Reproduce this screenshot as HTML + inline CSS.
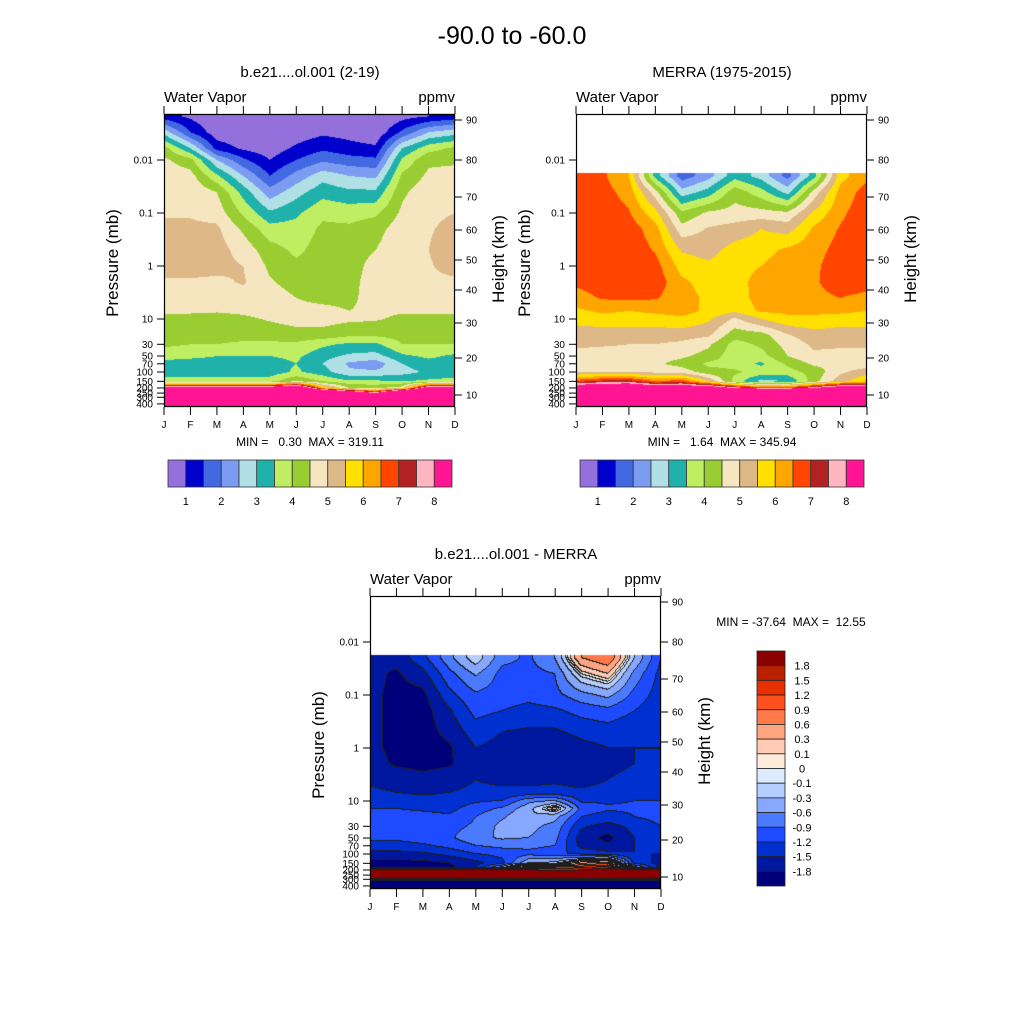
<!DOCTYPE html>
<html><head><meta charset="utf-8">
<style>
html,body{margin:0;padding:0;background:#fff;}
#wrap{position:relative;width:1024px;height:1024px;overflow:hidden;}
canvas,svg{position:absolute;left:0;top:0;}
text{font-family:"Liberation Sans",sans-serif;fill:#000;white-space:pre;}
</style></head>
<body>
<div id="wrap">
<canvas id="cv" width="1024" height="1024"></canvas>
<svg id="sv" width="1024" height="1024" xmlns="http://www.w3.org/2000/svg" xml:space="preserve">
<text x="512" y="44" font-size="25" text-anchor="middle">-90.0 to -60.0</text>
<text x="310" y="77" font-size="15" text-anchor="middle">b.e21....ol.001 (2-19)</text>
<text x="722" y="77" font-size="15" text-anchor="middle">MERRA (1975-2015)</text>
<text x="516" y="559" font-size="15" text-anchor="middle">b.e21....ol.001 - MERRA</text>
<text x="310" y="446" font-size="12" text-anchor="middle">MIN =   0.30  MAX = 319.11</text>
<text x="722" y="446" font-size="12" text-anchor="middle">MIN =   1.64  MAX = 345.94</text>
<text x="791" y="626" font-size="12" text-anchor="middle">MIN = -37.64  MAX =  12.55</text>
</svg>
</div>
<script>
// ---------- data ----------
const monthLabels = ["J","F","M","A","M","J","J","A","S","O","N","D"];
const wvLevels = [1,1.5,2,2.5,3,3.5,4,4.5,5,5.5,6,6.5,7,7.5,8];
const wvColors = ["#9370DB","#0000CD","#4169E1","#7B9CF0","#B0E0E6","#20B2AA","#C0EE63","#9ACD32","#F5E6C0","#DEB887","#FFE000","#FFA500","#FF4500","#B22222","#FFB6C1","#FF1493"];
const wvLabels = ["1","2","3","4","5","6","7","8"];
const diffLevels = [-1.8,-1.5,-1.2,-0.9,-0.6,-0.3,-0.1,0,0.1,0.3,0.6,0.9,1.2,1.5,1.8];
const diffLabels = ["-1.8","-1.5","-1.2","-0.9","-0.6","-0.3","-0.1","0","0.1","0.3","0.6","0.9","1.2","1.5","1.8"];
const diffColors = ["#00007A","#0018A0","#0030D0","#1E4BFF","#4A7BFF","#86A8FF","#B5CEFF","#DCEBFF","#FFEBDC","#FFCBB5","#FFA580","#FF7A48","#FF5020","#E63000","#B82000","#8B0000"];
const pressureTicks = [0.01,0.1,1,10,30,50,70,100,150,200,250,300,400];
const pressureTickLabels = ["0.01","0.1","1","10","30","50","70","100","150","200","250","300","400"];
const heightTickLabels = ["90","80","70","60","50","40","30","20","10"];
const heightTickY = [120,160,197,230,260,290,323,358,395];

const modelP = [0.0015,0.003,0.006,0.01,0.02,0.04,0.1,0.2,0.5,1,2,4,7,10,20,30,50,70,100,150,200,250,300,450];
const modelValues = [
[1.2,2.8,4.2,4.6,4.8,4.9,4.95,5.1,5.3,5.3,4.9,4.8,4.6,4.3,4.2,4.1,3.7,3.3,3.2,3.8,9,15,30,100],
[0.9,1.5,3.0,4.2,4.7,4.9,4.95,5.1,5.3,5.3,4.9,4.8,4.6,4.3,4.2,4.0,3.6,3.3,3.2,3.8,9,15,30,100],
[0.5,0.7,1.3,2.5,3.6,4.5,4.8,5.1,5.2,5.15,4.9,4.75,4.55,4.3,4.2,4.0,3.5,3.3,3.2,3.8,9,15,30,100],
[0.4,0.6,0.9,1.6,2.5,3.3,3.9,4.4,4.8,5.0,5.05,4.8,4.6,4.4,4.2,3.9,3.5,3.3,3.2,3.8,9,15,30,100],
[0.3,0.4,0.7,1.0,1.5,2.2,3.1,3.7,4.2,4.4,4.55,4.75,4.7,4.55,4.2,3.9,3.5,3.3,3.2,3.8,9,15,30,100],
[0.5,0.7,1.1,1.5,2.2,2.8,3.4,3.7,3.9,4.1,4.3,4.5,4.6,4.7,4.3,3.9,3.6,3.5,3.6,4.5,10,15,30,100],
[0.6,0.9,1.4,1.9,2.8,3.3,3.9,4.1,4.2,4.25,4.3,4.4,4.6,4.7,4.3,3.6,3.2,3.0,3.2,4.0,6.0,12,30,100],
[0.5,0.8,1.2,1.7,2.5,3.1,3.8,4.1,4.2,4.2,4.3,4.4,4.5,4.6,4.1,3.4,2.9,2.4,2.6,3.6,4.5,10,20,100],
[0.4,0.6,1.1,1.6,2.4,3.1,3.9,4.3,4.5,4.75,4.8,4.7,4.6,4.55,4.1,3.4,2.8,2.2,2.6,3.6,4.4,8,20,100],
[0.8,1.6,3.0,3.6,4.1,4.4,4.6,4.8,4.9,4.9,4.85,4.75,4.55,4.4,4.2,4.0,3.4,3.0,2.8,3.5,4.8,12,30,100],
[1.0,2.5,3.8,4.4,4.6,4.8,4.9,4.95,5.0,4.95,4.9,4.75,4.55,4.4,4.2,4.0,3.6,3.3,3.1,3.6,9,15,30,100],
[1.2,2.8,4.1,4.4,4.7,4.85,5.0,5.15,5.3,5.2,4.9,4.75,4.55,4.4,4.2,4.0,3.4,3.3,3.2,3.7,9,15,30,100]
];

const merraP = [0.02,0.04,0.1,0.2,0.5,1,2,4,7,10,20,30,50,70,100,150,200,250,300,450];
const merraTopP = 0.0176;
const merraValues = [
[6.8,6.8,6.8,6.8,6.8,6.75,6.6,6.3,5.9,5.7,5.2,5.1,4.8,4.7,5.0,6.8,9,15,30,100],
[6.6,6.7,6.8,6.8,6.8,6.8,6.75,6.55,6.1,5.8,5.2,5.05,4.8,4.7,5.0,7.2,9.5,15,30,100],
[6.0,6.3,6.55,6.8,6.85,6.85,6.8,6.6,6.0,5.8,5.2,5.0,4.8,4.7,5.0,7.3,9.5,15,30,100],
[3.3,4.7,5.7,6.2,6.45,6.7,6.8,6.55,6.1,5.8,5.2,5.0,4.7,4.6,4.9,6.5,9,15,30,100],
[1.7,2.7,4.1,4.7,5.45,5.8,6.1,6.2,6.2,5.9,5.2,4.9,4.6,4.3,4.8,6.8,9,15,30,100],
[2.3,3.2,4.6,5.05,5.3,5.6,5.8,5.9,5.9,5.6,5.1,4.6,4.3,3.9,4.2,5.5,9,15,30,100],
[3.3,4.3,4.7,5.2,5.7,5.8,5.8,5.75,5.6,4.9,4.2,3.8,3.7,3.8,4.1,3.8,8,15,30,100],
[2.8,3.7,4.7,5.5,5.8,6.0,6.2,6.2,6.1,5.5,4.3,4.1,3.8,3.4,3.8,2.8,7,15,30,100],
[1.8,2.8,4.6,5.3,6.1,6.3,6.4,6.3,6.1,5.9,4.95,4.7,4.5,4.1,3.8,3.0,7,15,30,100],
[3.3,4.7,5.6,6.1,6.3,6.4,6.45,6.4,6.1,5.9,5.3,5.1,4.9,4.6,4.2,4.3,8,15,30,100],
[5.8,6.2,6.4,6.55,6.7,6.8,6.7,6.5,6.1,5.8,5.2,5.1,4.8,4.6,4.9,5.3,9,15,30,100],
[6.4,6.7,6.8,6.8,6.8,6.8,6.65,6.4,6.0,5.8,5.2,5.1,4.8,4.7,5.3,6.0,9,15,30,100]
];

const diffP = [0.02,0.04,0.1,0.2,0.5,1,2,4,7,10,14,20,30,50,70,100,150,180,200,250,300,330,450];
const diffValues = [
[-1.65,-1.7,-1.7,-1.7,-1.7,-1.7,-1.65,-1.55,-1.45,-1.3,-1.2,-1.1,-1.1,-1.15,-1.3,-1.6,-1.9,-1.9,2.2,2.5,2.0,-2.0,-2.2],
[-1.7,-1.85,-1.9,-1.9,-1.9,-1.9,-1.85,-1.6,-1.5,-1.35,-1.2,-1.1,-1.1,-1.15,-1.3,-1.6,-1.9,-1.9,2.2,2.5,2.0,-2.0,-2.2],
[-1.3,-1.6,-1.9,-1.95,-1.95,-1.95,-1.9,-1.7,-1.55,-1.4,-1.25,-1.1,-1.0,-1.05,-1.25,-1.55,-1.9,-1.9,2.2,2.5,2.0,-2.0,-2.2],
[-0.7,-1.0,-1.3,-1.55,-1.7,-1.85,-1.85,-1.6,-1.5,-1.4,-1.3,-1.15,-1.0,-0.95,-1.1,-1.4,-1.8,-1.9,2.2,2.5,2.0,-2.0,-2.2],
[-0.1,-0.55,-0.95,-1.1,-1.35,-1.5,-1.55,-1.5,-1.45,-1.25,-1.05,-0.9,-0.85,-0.7,-0.9,-1.2,-1.6,-1.5,2.2,2.5,2.0,-2.0,-2.2],
[-0.8,-1.0,-1.05,-1.2,-1.5,-1.6,-1.6,-1.55,-1.45,-1.2,-0.85,-0.65,-0.5,-0.55,-0.8,-1.1,-1.3,-0.5,2.0,2.5,2.0,-2.0,-2.2],
[-0.95,-1.0,-1.1,-1.3,-1.55,-1.65,-1.65,-1.6,-1.4,-0.7,-0.4,-0.3,-0.5,-0.6,-0.8,-1.0,-0.3,1.0,1.8,2.5,2.0,-2.0,-2.2],
[-0.6,-0.9,-1.0,-1.25,-1.55,-1.8,-1.65,-1.55,-1.4,-0.6,0.2,-0.5,-0.7,-0.8,-0.9,-1.1,-0.2,1.2,1.6,2.3,2.0,-2.0,-2.2],
[0.6,0.0,-0.7,-1.1,-1.4,-1.6,-1.65,-1.6,-1.45,-1.25,-1.0,-1.2,-1.45,-1.65,-1.6,-1.3,0.5,1.4,1.8,2.0,2.0,-2.0,-2.2],
[0.9,0.3,-0.5,-1.0,-1.35,-1.5,-1.55,-1.5,-1.4,-1.25,-1.15,-1.35,-1.6,-1.9,-1.75,-1.4,0.8,1.6,2.0,2.0,2.0,-2.0,-2.2],
[-0.3,-0.7,-1.0,-1.2,-1.45,-1.5,-1.5,-1.45,-1.35,-1.2,-1.15,-1.2,-1.4,-1.5,-1.5,-1.5,-1.3,-0.5,2.2,2.5,2.0,-2.0,-2.2],
[-1.2,-1.3,-1.35,-1.45,-1.5,-1.5,-1.5,-1.45,-1.3,-1.2,-1.15,-1.1,-1.2,-1.3,-1.4,-1.5,-1.6,-1.6,2.3,2.5,2.0,-2.0,-2.2]
];

// ---------- rendering ----------
const PW = 291, DECADE = 53;
const cv = document.getElementById('cv');
const ctx = cv.getContext('2d');
const img = ctx.createImageData(1024,1024);
function hexRgb(h){return [parseInt(h.slice(1,3),16),parseInt(h.slice(3,5),16),parseInt(h.slice(5,7),16)];}
function levelIndex(v, levels){let k=0;for(const l of levels){if(v>=l)k++;}return k;}

function renderPanel(x0, yBase, pArr, vals, levels, colors, clipP, lines){
  const lp = pArr.map(Math.log10);
  const n = lp.length;
  const yTop = yBase-152, yBot = yBase+141;
  const clipL = clipP ? Math.log10(clipP) : -99;
  const rgb = colors.map(hexRgb);
  const H = yBot-yTop;
  const grid = new Int16Array(PW*H).fill(-1);
  const dx = PW/11;
  for(let py=yTop; py<yBot; py++){
    const L = (py+0.5-yBase)/DECADE;
    if(L < clipL) continue;
    let r=0,f=0;
    if(L<=lp[0]){r=0;f=0;}
    else if(L>=lp[n-1]){r=n-2;f=1;}
    else{for(let i=0;i<n-1;i++){if(L>=lp[i]&&L<=lp[i+1]){r=i;f=(L-lp[i])/(lp[i+1]-lp[i]);break;}}}
    for(let px=x0; px<x0+PW; px++){
      let m = (px+0.5-x0)/dx; if(m<0)m=0; if(m>11)m=11;
      let mi = Math.min(Math.floor(m),10); const fm = m-mi;
      const a = vals[mi][r]*(1-f)+vals[mi][r+1]*f;
      const b = vals[mi+1][r]*(1-f)+vals[mi+1][r+1]*f;
      const v = a*(1-fm)+b*fm;
      grid[(py-yTop)*PW+(px-x0)] = levelIndex(v, levels);
    }
  }
  for(let j=0;j<H;j++){
    for(let i=0;i<PW;i++){
      const k = grid[j*PW+i]; if(k<0) continue;
      let c = rgb[k];
      if(lines){
        const kr = i<PW-1 ? grid[j*PW+i+1] : k;
        const kb = j<H-1 ? grid[(j+1)*PW+i] : k;
        if((kr>=0&&kr!==k)||(kb>=0&&kb!==k)) c=[30,30,30];
      }
      const o = ((yTop+j)*1024 + x0+i)*4;
      img.data[o]=c[0];img.data[o+1]=c[1];img.data[o+2]=c[2];img.data[o+3]=255;
    }
  }
}
renderPanel(164, 266, modelP, modelValues, wvLevels, wvColors, null, false);
renderPanel(576, 266, merraP, merraValues, wvLevels, wvColors, merraTopP, false);
renderPanel(370, 748, diffP, diffValues, diffLevels, diffColors, merraTopP, true);
ctx.putImageData(img,0,0);

// ---------- axes ----------
const NS = "http://www.w3.org/2000/svg";
const sv = document.getElementById('sv');
function mk(tag, attrs, txt){
  const e = document.createElementNS(NS, tag);
  for(const k in attrs) e.setAttribute(k, attrs[k]);
  if(txt!==undefined) e.textContent = txt;
  sv.appendChild(e);
  return e;
}
function drawAxes(prefix, x0, yBase){
  const yTop = yBase-152, yBot = yBase+141, dx = PW/11;
  const frame = mk('rect',{x:x0+0.5,y:yTop+0.5,width:PW-1,height:yBot-yTop-1,fill:'none',stroke:'#000','stroke-width':1.2});
  
  
  for(let i=0;i<12;i++){
    const x = x0+i*dx;
    const t1 = mk('line',{x1:x,y1:yTop,x2:x,y2:yTop-8,stroke:'#000','stroke-width':1});
    
    
    const t2 = mk('line',{x1:x,y1:yBot,x2:x,y2:yBot+8,stroke:'#000','stroke-width':1});
    
    
    const lb = mk('text',{x:x,y:yBot+21,'font-size':10,'text-anchor':'middle'}, monthLabels[i]);
    
    
  }
  pressureTicks.forEach((p,i)=>{
    const y = yBase + DECADE*Math.log10(p);
    const t = mk('line',{x1:x0,y1:y,x2:x0-7,y2:y,stroke:'#000','stroke-width':1});
    
    
    const lb = mk('text',{x:x0-11,y:y+3.5,'font-size':10,'text-anchor':'end'}, pressureTickLabels[i]);
    
    
  });
  heightTickY.forEach((y0,i)=>{
    const y = y0 + (yBase-266);
    const t = mk('line',{x1:x0+PW,y1:y,x2:x0+PW+7,y2:y,stroke:'#000','stroke-width':1});
    
    
    const lb = mk('text',{x:x0+PW+11,y:y+3.5,'font-size':10}, heightTickLabels[i]);
    
    
  });
  const yl = mk('text',{x:0,y:0,'font-size':17,'text-anchor':'middle',transform:`translate(${x0-46},${yBase-3}) rotate(-90)`}, 'Pressure (mb)');
  
  
  const yr = mk('text',{x:0,y:0,'font-size':17,'text-anchor':'middle',transform:`translate(${x0+PW+49},${yBase-7}) rotate(-90)`}, 'Height (km)');
  
  
  const wl = mk('text',{x:x0,y:yTop-12,'font-size':15}, 'Water Vapor');
  
  
  const ul = mk('text',{x:x0+PW,y:yTop-12,'font-size':15,'text-anchor':'end'}, 'ppmv');
  
  
}
drawAxes('model', 164, 266);
drawAxes('merra', 576, 266);
drawAxes('diff', 370, 748);

function hColorbar(prefix, x0){
  const w = (452-168)/wvColors.length;
  wvColors.forEach((c,i)=>{
    const r = mk('rect',{x:x0+i*w,y:460,width:w,height:27,fill:c,stroke:'#333','stroke-width':0.8});
    
    
  });
  wvLabels.forEach((t,i)=>{
    const b = 1+2*i;
    const lb = mk('text',{x:x0+b*w,y:505,'font-size':11,'text-anchor':'middle'}, t);
    
    
  });
}
hColorbar('model', 168);
hColorbar('merra', 580);

(function(){
  const y0 = 651, h = (886-651)/diffColors.length;
  for(let i=0;i<diffColors.length;i++){
    const c = diffColors[diffColors.length-1-i];
    const r = mk('rect',{x:757,y:y0+i*h,width:28,height:h,fill:c,stroke:'#222','stroke-width':0.8});
    
    
  }
  for(let i=0;i<diffLabels.length;i++){
    const t = diffLabels[diffLabels.length-1-i];
    const lb = mk('text',{x:802,y:y0+(i+1)*h+4,'font-size':11,'text-anchor':'middle'}, t);
    
    
  }
})();
</script>
</body></html>
